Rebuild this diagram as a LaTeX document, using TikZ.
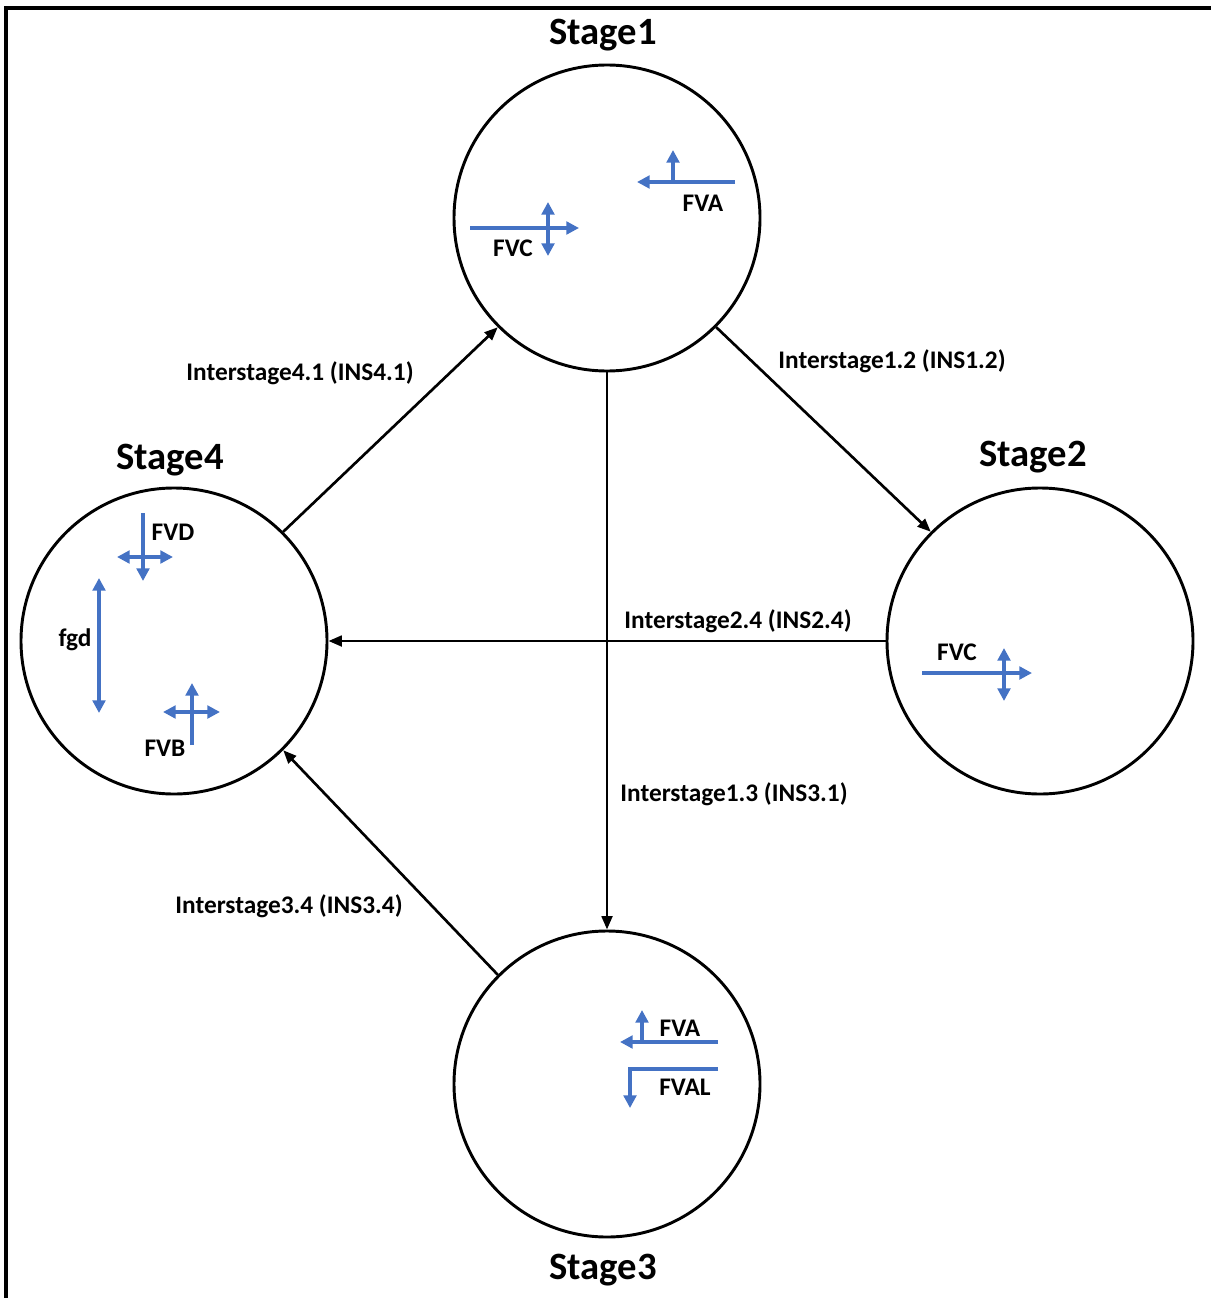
\documentclass[tikz,border=0pt]{standalone}
\usepackage{fontspec}
\setmainfont{Carlito}
\usetikzlibrary{arrows.meta}
\definecolor{fvblue}{RGB}{68,114,196}
\begin{document}
\begin{tikzpicture}[x=0.75pt,y=-0.75pt,
  stage/.style={circle,draw,line width=2.2pt,minimum size=229.5pt,inner sep=0pt},
  stagelabel/.style={font=\bfseries\fontsize{29}{31}\selectfont,inner sep=0pt},
  lbl/.style={font=\bfseries\fontsize{19}{21}\selectfont,inner sep=0pt},
  conn/.style={line width=2pt,-{Triangle[length=10pt,width=8pt]}},
  fv/.style={draw=fvblue,line width=2.6pt},
  fvtip/.style={fv,-{Triangle[length=9.5pt,width=9.5pt]}},
  fvboth/.style={fv,{Triangle[length=9.5pt,width=9.5pt]}-{Triangle[length=9.5pt,width=9.5pt]}}
]
\useasboundingbox (0,0) rectangle (1211,1298);
\draw[line width=2.4pt] (6,1298) -- (6,8) -- (1211,8);

% stages
\node[stage] (s1) at (607,218) {};
\node[stage] (s2) at (1040,641) {};
\node[stage] (s3) at (607,1084) {};
\node[stage] (s4) at (174,641) {};

\node[stagelabel] (l1) at (603,35) {Stage1};
\node[stagelabel] (l2) at (1033,457) {Stage2};
\node[stagelabel] (l3) at (603,1270) {Stage3};
\node[stagelabel] (l4) at (170,460) {Stage4};

% connectors
\draw[conn] (s1.-45) -- (s2.135);
\draw[conn] (s1.south) -- (s3.north);
\draw[conn] (s2.west) -- (s4.east);
\draw[conn] (s3.135) -- (s4.-45);
\draw[conn] (s4.45) -- (s1.225);

\node[lbl] (i12) at (892,361) {Interstage1.2 (INS1.2)};
\node[lbl] (i41) at (300,373) {Interstage4.1 (INS4.1)};
\node[lbl] (i24) at (738,621) {Interstage2.4 (INS2.4)};
\node[lbl] (i13) at (734,794) {Interstage1.3 (INS3.1)};
\node[lbl] (i34) at (289,906) {Interstage3.4 (INS3.4)};

% Stage1 glyphs
\draw[fvtip] (735,182) -- (637,182);
\draw[fvtip] (673,182) -- (673,150);
\draw[fvtip] (470,228) -- (579,228);
\draw[fvboth] (548,202) -- (548,256);
\node[lbl] (t1a) at (703,203) {FVA};
\node[lbl] (t1c) at (513,248) {FVC};

% Stage2 glyphs
\draw[fvtip] (922,673) -- (1032,673);
\draw[fvboth] (1004,648) -- (1004,701);
\node[lbl] (t2c) at (957,652) {FVC};

% Stage4 glyphs
\draw[fvtip] (143,513) -- (143,581);
\draw[fvboth] (117,557) -- (173,557);
\draw[fvboth] (99,578) -- (99,713);
\draw[fvtip] (192,745) -- (192,683);
\draw[fvboth] (163,712) -- (220,712);
\node[lbl] (t4d) at (173,532) {FVD};
\node[lbl] (t4g) at (75,640) {fgd};
\node[lbl] (t4b) at (165,748) {FVB};

% Stage3 glyphs
\draw[fvtip] (718,1042) -- (620,1042);
\draw[fvtip] (642,1042) -- (642,1010);
\draw[fvtip] (718,1069) -- (630,1069) -- (630,1108);
\node[lbl] (t3a) at (680,1028) {FVA};
\node[lbl] (t3l) at (685,1087) {FVAL};
\end{tikzpicture}
\end{document}
